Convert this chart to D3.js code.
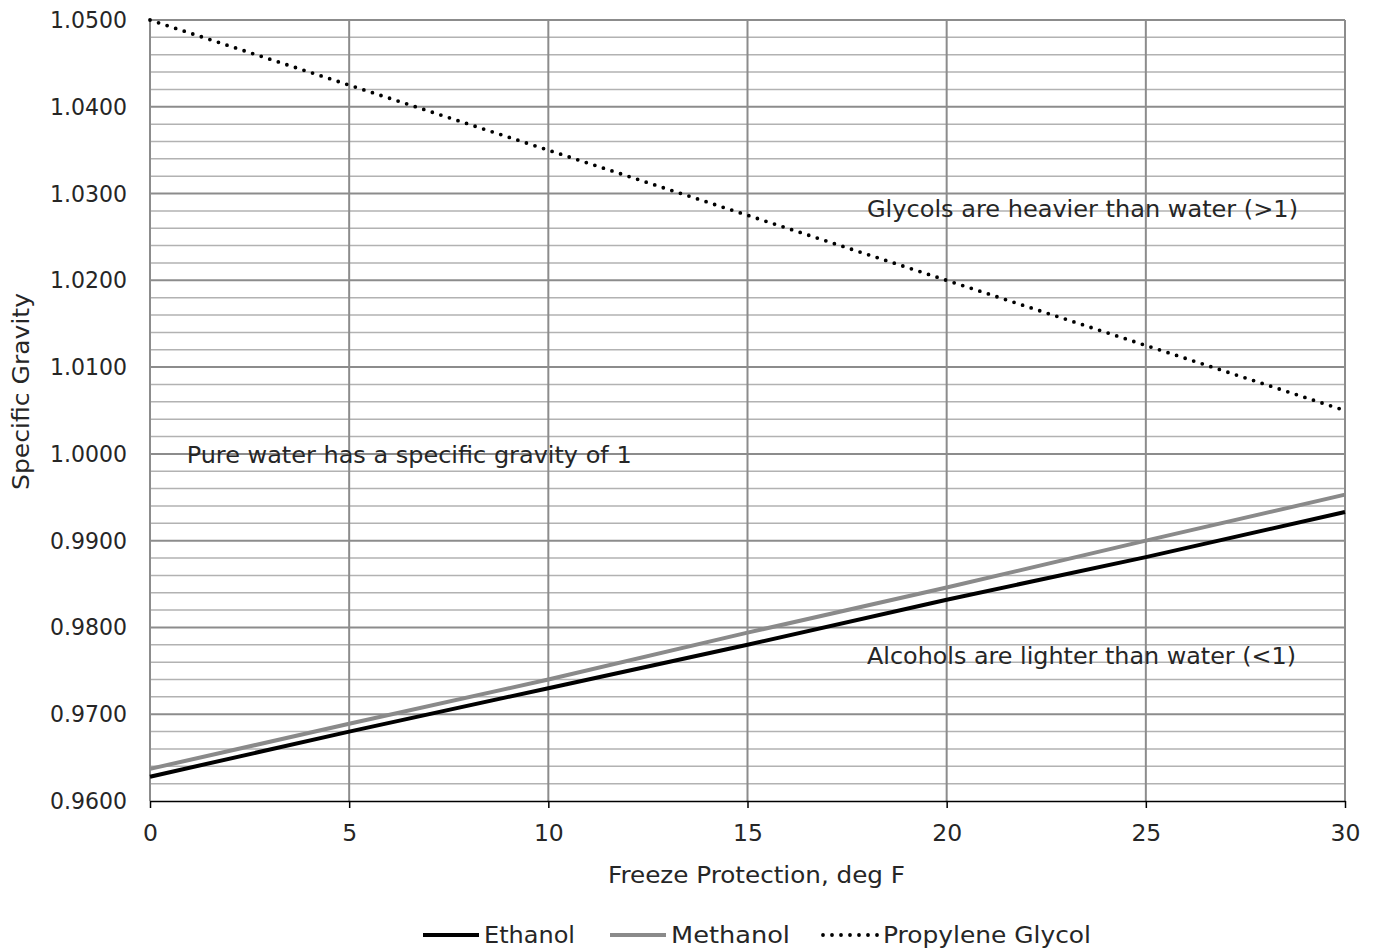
<!DOCTYPE html>
<html>
<head>
<meta charset="utf-8">
<script src="https://cdn.jsdelivr.net/npm/d3@7/dist/d3.min.js"></script>
<style>
html,body{margin:0;padding:0;background:#fff;}
text{font-family:"Century Gothic","DejaVu Sans",sans-serif;fill:#262626;}
</style>
</head>
<body>
<svg id="chart" width="1379" height="951"></svg>
<script>
const xValues = [0, 5, 10, 15, 20, 25, 30];
const ethanol = [0.9628, 0.9680, 0.9730, 0.9780, 0.9832, 0.9881, 0.9933];
const methanol = [0.9637, 0.9689, 0.9740, 0.9794, 0.9846, 0.9900, 0.9953];
const propyleneGlycol = [1.0500, 1.0425, 1.0350, 1.0275, 1.0200, 1.0125, 1.0050];
const xTicks = [0, 5, 10, 15, 20, 25, 30];
const yTicks = [0.96, 0.97, 0.98, 0.99, 1.00, 1.01, 1.02, 1.03, 1.04, 1.05];
const seriesNames = ["Ethanol", "Methanol", "Propylene Glycol"];
const annotations = [
  {x: 18, y: 1.02829, text: "Glycols are heavier than water (>1)", w: 431},
  {x: 0.92, y: 0.99994, text: "Pure water has a specific gravity of 1", w: 445},
  {x: 18, y: 0.97671, text: "Alcohols are lighter than water (<1)", w: 429}
];

(function () {
const svg = d3.select("#chart");
const mLeft = 150, mRight = 1345, mTop = 20, mBottom = 801;
const x = d3.scaleLinear().domain([0, 30]).range([mLeft, mRight]);
const y = d3.scaleLinear().domain([0.96, 1.05]).range([mBottom, mTop]);
const FONT = "'Century Gothic','DejaVu Sans',sans-serif";
const FS = "23.5px";

function fit(sel, w) {
  sel.attr("textLength", w).attr("lengthAdjust", "spacingAndGlyphs");
}

// minor horizontal gridlines
const minor = d3.range(0, 46).map(i => 0.96 + i * 0.002).filter(v => Math.round(v * 1000) % 10 !== 0);
svg.append("g").selectAll("line").data(minor).join("line")
  .attr("x1", mLeft).attr("x2", mRight)
  .attr("y1", d => y(d)).attr("y2", d => y(d))
  .attr("stroke", "#b2b2b2").attr("stroke-width", 1.5);
// major horizontal gridlines
svg.append("g").selectAll("line").data(yTicks.slice(1)).join("line")
  .attr("x1", mLeft).attr("x2", mRight)
  .attr("y1", d => y(d)).attr("y2", d => y(d))
  .attr("stroke", "#8c8c8c").attr("stroke-width", 2);
// vertical gridlines
svg.append("g").selectAll("line").data(xTicks).join("line")
  .attr("x1", d => x(d)).attr("x2", d => x(d))
  .attr("y1", mTop).attr("y2", mBottom)
  .attr("stroke", "#8c8c8c").attr("stroke-width", 2);

// x axis
const xAxis = svg.append("g").attr("transform", `translate(0,${mBottom})`)
  .call(d3.axisBottom(x).tickValues(xTicks).tickSize(7).tickSizeOuter(0).tickPadding(25));
xAxis.select(".domain").attr("stroke", "#000").attr("stroke-width", 1.5);
xAxis.selectAll(".tick line").attr("stroke", "#000").attr("stroke-width", 1.5);
xAxis.selectAll("text").style("font-size", FS).style("font-family", FONT).attr("fill", "#262626")
  .attr("dy", "0.35em");

// y axis labels
const yAxis = svg.append("g").attr("transform", `translate(${mLeft},0)`)
  .call(d3.axisLeft(y).tickValues(yTicks).tickFormat(d3.format(".4f")).tickSize(0).tickPadding(23));
yAxis.select(".domain").remove();
yAxis.selectAll("text").style("font-size", FS).style("font-family", FONT).attr("fill", "#262626")
  .attr("textLength", 77).attr("lengthAdjust", "spacingAndGlyphs");

// lines
const line = d3.line().x((d, i) => x(xValues[i])).y(d => y(d));
svg.append("path").datum(methanol).attr("d", line).attr("fill", "none")
  .attr("stroke", "#8a8a8a").attr("stroke-width", 4);
svg.append("path").datum(ethanol).attr("d", line).attr("fill", "none")
  .attr("stroke", "#000").attr("stroke-width", 4);
svg.append("path").datum(propyleneGlycol).attr("d", line).attr("fill", "none")
  .attr("stroke", "#000").attr("stroke-width", 3.8)
  .attr("stroke-linecap", "round").attr("stroke-dasharray", "0 9");

// annotations
svg.append("g").selectAll("text").data(annotations).join("text")
  .attr("x", d => x(d.x)).attr("y", d => y(d.y)).attr("dy", "0.35em")
  .style("font-size", FS).text(d => d.text)
  .attr("textLength", d => d.w).attr("lengthAdjust", "spacingAndGlyphs");

// axis titles
fit(svg.append("text").attr("x", 608).attr("y", 875)
  .attr("dy", "0.35em").style("font-size", FS).text("Freeze Protection, deg F"), 297);
fit(svg.append("text").attr("transform", `translate(21,490) rotate(-90)`)
  .attr("dy", "0.35em").style("font-size", FS).text("Specific Gravity"), 197);

// legend
const legendItems = [
  {name: seriesNames[0], color: "#000", dash: null, x0: 423, tw: 91},
  {name: seriesNames[1], color: "#8a8a8a", dash: null, x0: 610, tw: 119},
  {name: seriesNames[2], color: "#000", dash: "0 9", x0: 823, tw: 208}
];
const lg = svg.append("g");
legendItems.forEach(it => {
  const l = lg.append("line").attr("x1", it.x0).attr("x2", it.x0 + 56).attr("y1", 935).attr("y2", 935)
    .attr("stroke", it.color).attr("stroke-width", it.dash ? 3.8 : 4);
  if (it.dash) l.attr("stroke-dasharray", it.dash).attr("stroke-linecap", "round");
  fit(lg.append("text").attr("x", it.x0 + (it.dash ? 60 : 61)).attr("y", 935).attr("dy", "0.35em")
    .style("font-size", FS).text(it.name), it.tw);
});
})();
</script>
</body>
</html>
